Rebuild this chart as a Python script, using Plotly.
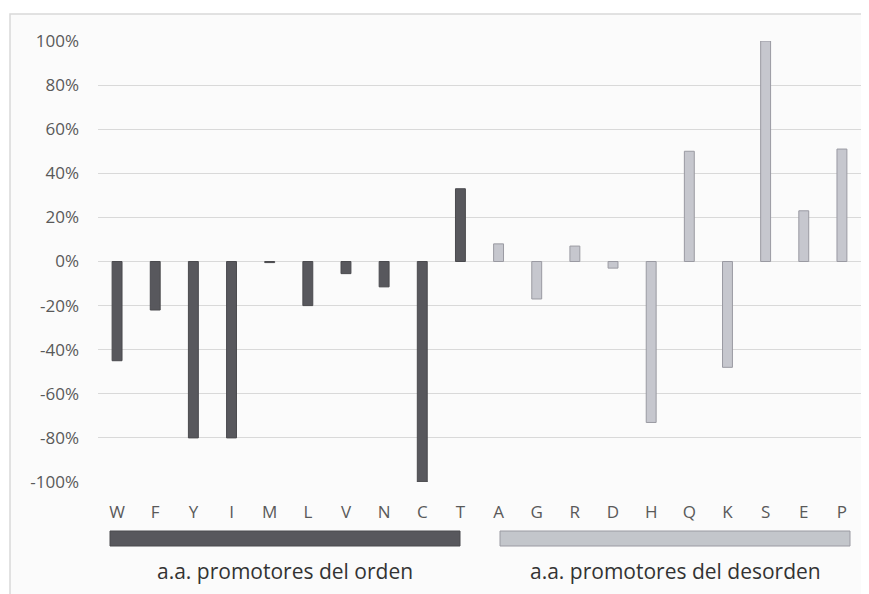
import plotly.graph_objects as go

order_aa = ["W", "F", "Y", "I", "M", "L", "V", "N", "C", "T"]
order_vals = [-45, -22, -80, -80, -0.5, -20, -5.5, -11.5, -100, 33]
disorder_aa = ["A", "G", "R", "D", "H", "Q", "K", "S", "E", "P"]
disorder_vals = [8, -17, 7, -3, -73, 50, -48, 100, 23, 51]
y_ticks = [-100, -80, -60, -40, -20, 0, 20, 40, 60, 80, 100]
group_labels = ["a.a. promotores del orden", "a.a. promotores del desorden"]

categories = order_aa + disorder_aa
font_fam = "Open Sans, Noto Sans, sans-serif"
dark = "#58585d"
light = "#c6c7ce"

fig = go.Figure()
fig.add_trace(go.Bar(x=order_aa, y=[v / 100 for v in order_vals], width=0.26,
                     marker=dict(color=dark, line=dict(color="#4a4a4e", width=1))))
fig.add_trace(go.Bar(x=disorder_aa, y=[v / 100 for v in disorder_vals], width=0.26,
                     marker=dict(color=light, line=dict(color="#9a9aa2", width=1))))

# page body has an 8px default margin; work in reference pixel coords, offset by O
O = 8
W, H = 869 - O, 594 - O
L, R, T, B = 98 - O, 8, 41 - O, 112
pw, ph = W - L - R, H - T - B

def px(x):
    return (x - O - L) / pw

def py(y):
    return (H - B - (y - O)) / ph

shapes = [
    dict(type="rect", xref="paper", yref="paper", x0=px(10), x1=px(867), y0=py(14), y1=py(610),
         line=dict(color="#d9d9d9", width=1.5), fillcolor="#fbfbfb", layer="below"),
    dict(type="rect", xref="paper", yref="paper", x0=px(110), x1=px(460), y0=py(546), y1=py(531),
         line=dict(color="#4a4a4e", width=1), fillcolor=dark),
    dict(type="rect", xref="paper", yref="paper", x0=px(500), x1=px(850), y0=py(546), y1=py(531),
         line=dict(color="#9a9aa2", width=1), fillcolor="#c3c6cb"),
]
annotations = [
    dict(text=group_labels[0], xref="paper", yref="paper", x=px(285), y=py(571), showarrow=False,
         font=dict(family=font_fam, size=21, color="#333333"), xanchor="center", yanchor="middle"),
    dict(text=group_labels[1], xref="paper", yref="paper", x=px(675), y=py(571), showarrow=False,
         font=dict(family=font_fam, size=21, color="#333333"), xanchor="center", yanchor="middle"),
]

fig.update_layout(
    width=W, height=H,
    margin=dict(l=L, r=R, t=T, b=B),
    paper_bgcolor="white",
    plot_bgcolor="rgba(0,0,0,0)",
    showlegend=False,
    barmode="overlay",
    shapes=shapes,
    annotations=annotations,
    font=dict(family=font_fam, color="#595959"),
)
fig.update_xaxes(type="category", categoryorder="array", categoryarray=categories,
                 range=[-0.5, 19.5], showgrid=False, showline=False, zeroline=False,
                 ticks="", tickfont=dict(size=17, color="#595959"), ticklabelstandoff=18)
fig.update_yaxes(range=[-1, 1], tickvals=[v / 100 for v in y_ticks],
                 ticktext=[f"{v}%" for v in y_ticks], showgrid=True, gridcolor="#d9d9d9",
                 gridwidth=1, zeroline=True, zerolinecolor="#d9d9d9", zerolinewidth=1,
                 showline=False, ticks="", tickfont=dict(size=17, color="#595959"),
                 ticklabelstandoff=18)

fig.write_html("out.html",
               post_script="document.documentElement.style.overflow='hidden';")
